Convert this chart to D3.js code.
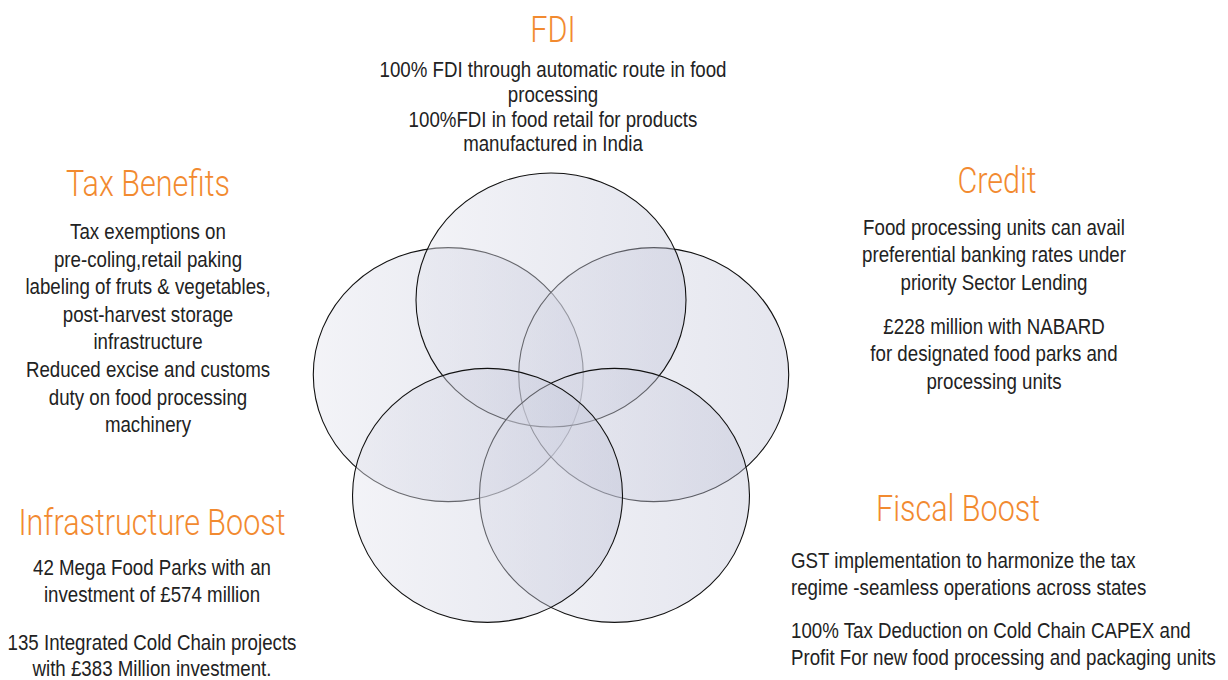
<!DOCTYPE html>
<html><head><meta charset="utf-8">
<script src="https://cdn.jsdelivr.net/npm/d3@7"></script>
<style>
html,body{margin:0;padding:0;background:#fff;}
svg{display:block;}
.body{font-family:"Liberation Sans",Arial,sans-serif;}
.title{font-family:Roboto,"Liberation Sans",sans-serif;font-weight:300;}
</style></head>
<body>
<script>
// ---- data ----
const categories = ["FDI", "Credit", "Fiscal Boost", "Infrastructure Boost", "Tax Benefits"];
const fdiText = [["100% FDI through automatic route in food", "processing", "100%FDI in food retail for products", "manufactured in India"]];
const creditText = [["Food processing units can avail", "preferential banking rates under", "priority Sector Lending"],
                    ["£228 million with NABARD", "for designated food parks and", "processing units"]];
const fiscalText = [["GST implementation to harmonize the tax", "regime -seamless operations across states"],
                    ["100% Tax Deduction on Cold Chain CAPEX and", "Profit For new food processing and packaging units"]];
const infraText = [["42 Mega Food Parks with an", "investment of £574 million"],
                   ["135 Integrated Cold Chain projects", "with £383 Million investment."]];
const taxText = [["Tax exemptions on", "pre-coling,retail paking", "labeling of fruts & vegetables,", "post-harvest storage", "infrastructure", "Reduced excise and customs", "duty on food processing", "machinery"]];
const texts = [fdiText, creditText, fiscalText, infraText, taxText];

// ---- layout ----
const W = 1228, H = 680;
const layout = {
  "FDI":                  {x: 553, titleY: 42,  bodyY: 77,  lh: 24.8, gap: 44, anchor: "middle", bx: 553},
  "Credit":               {x: 997, titleY: 193, bodyY: 235, lh: 27.4, gap: 44, anchor: "middle", bx: 994},
  "Fiscal Boost":         {x: 958, titleY: 521, bodyY: 568, lh: 27,   gap: 43, anchor: "start",  bx: 791},
  "Infrastructure Boost": {x: 152, titleY: 535, bodyY: 575, lh: 26.7, gap: 48, anchor: "middle", bx: 152},
  "Tax Benefits":         {x: 148, titleY: 196, bodyY: 239, lh: 27.6, gap: 44, anchor: "middle", bx: 148}
};
const drawOrder = ["Tax Benefits", "Credit", "FDI", "Fiscal Boost", "Infrastructure Boost"];
const bodySize = 22, bodySX = 0.85, titleSize = 37, titleSX = 0.825;

const svg = d3.select("body").append("svg").attr("width", W).attr("height", H);
const defs = svg.append("defs");
const grad = defs.append("linearGradient").attr("id", "cg").attr("x1", "0").attr("x2", "1").attr("y1", "0").attr("y2", "0");
grad.append("stop").attr("offset", "0").attr("stop-color", "#e4e5ee").attr("stop-opacity", 0.45);
grad.append("stop").attr("offset", "1").attr("stop-color", "#bec1d6").attr("stop-opacity", 0.4);

// pentagon placement of the circles
const angle = d3.scaleLinear().domain([0, categories.length]).range([-Math.PI / 2, 1.5 * Math.PI]);
const cx = 551, cy = 408, R = 108, rx = 135, ry = 127;

const circles = svg.append("g");
circles.selectAll("ellipse")
  .data(drawOrder.map(n => categories.indexOf(n)))
  .join("ellipse")
  .attr("cx", i => cx + R * Math.cos(angle(i)))
  .attr("cy", i => cy + R * Math.sin(angle(i)))
  .attr("rx", rx).attr("ry", ry)
  .attr("fill", "url(#cg)")
  .attr("stroke", "#111")
  .attr("stroke-width", 1.1);

// text
const tg = svg.append("g");
categories.forEach((c, i) => {
  const L = layout[c];
  tg.append("text").attr("class", "title")
    .attr("transform", `translate(${L.x},${L.titleY}) scale(${titleSX},1)`)
    .attr("text-anchor", "middle")
    .attr("font-size", titleSize).attr("fill", "#f28a30").text(c);
  let y = L.bodyY;
  texts[i].forEach((para, pi) => {
    if (pi > 0) y += L.gap - L.lh;
    para.forEach(line => {
      tg.append("text").attr("class", "body")
        .attr("transform", `translate(${L.bx},${y}) scale(${bodySX},1)`)
        .attr("text-anchor", L.anchor)
        .attr("font-size", bodySize).attr("fill", "#222").text(line);
      y += L.lh;
    });
  });
});
</script>
</body></html>
